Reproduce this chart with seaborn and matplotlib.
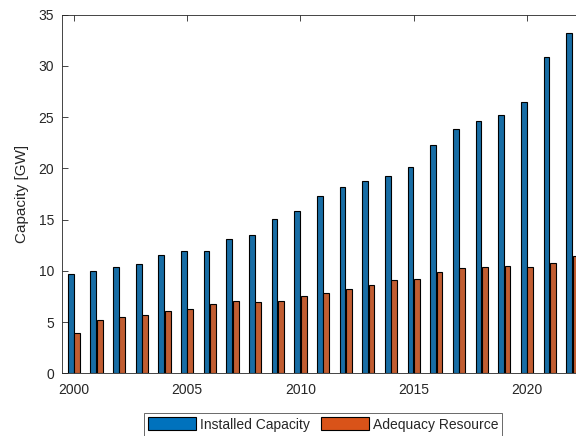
import numpy as np
import pandas as pd
import matplotlib
matplotlib.use("Agg")
import matplotlib.pyplot as plt
import seaborn as sns

years = list(range(2000, 2023))
installed_capacity = [9.7, 10.0, 10.4, 10.7, 11.5, 11.9, 11.9, 13.1, 13.5, 15.1, 15.8,
                      17.3, 18.2, 18.8, 19.3, 20.1, 22.3, 23.8, 24.6, 25.2, 26.5, 30.9, 33.2]
adequacy_resource = [3.9, 5.2, 5.5, 5.7, 6.1, 6.3, 6.8, 7.1, 7.0, 7.1, 7.5,
                     7.8, 8.2, 8.6, 9.1, 9.2, 9.9, 10.3, 10.4, 10.5, 10.4, 10.8, 11.4]
series_names = ["Installed Capacity", "Adequacy Resource"]
series_colors = ["#0072BD", "#D95319"]
x_ticks = [2000, 2005, 2010, 2015, 2020]
y_ticks = [0, 5, 10, 15, 20, 25, 30, 35]

df = pd.DataFrame({
    "Year": years * 2,
    "Capacity": installed_capacity + adequacy_resource,
    "Series": [series_names[0]] * len(years) + [series_names[1]] * len(years),
})

sns.set_theme(style="white")
plt.rcParams["font.family"] = ["Liberation Sans", "DejaVu Sans"]
plt.rcParams["font.size"] = 10

axis_color = "#262626"

fig = plt.figure(figsize=(5.76, 4.36), dpi=100)
ax = fig.add_axes([0.1085, 0.1438, 0.905, 0.8225])

sns.barplot(data=df, x="Year", y="Capacity", hue="Series",
            palette=series_colors, native_scale=True, width=0.56, gap=0.1,
            edgecolor="black", linewidth=0.8, errorbar=None, ax=ax, legend=False)

ax.set_xlim(1999.5, 2022.5)
ax.set_ylim(0, 35)
ax.set_xticks(x_ticks)
ax.set_xticklabels([str(t) for t in x_ticks])
ax.set_yticks(y_ticks)
ax.set_xlabel("")
ax.set_ylabel("Capacity [GW]", fontsize=11, color=axis_color, labelpad=7)

for side in ["left", "right", "top", "bottom"]:
    ax.spines[side].set_visible(True)
    ax.spines[side].set_color(axis_color)
    ax.spines[side].set_linewidth(0.6)

ax.tick_params(axis="both", which="both", direction="in", length=4.3, width=0.6,
               color=axis_color, labelcolor=axis_color, labelsize=10,
               top=True, right=True, bottom=True, left=True)
ax.tick_params(axis="x", pad=7)
ax.tick_params(axis="y", pad=6)

handles = [plt.Rectangle((0, 0), 1, 1, facecolor=c, edgecolor="black", linewidth=0.8)
           for c in series_colors]
leg = fig.legend(handles, series_names, loc="upper center", bbox_to_anchor=(0.561, 0.052),
                 borderaxespad=0, ncol=2, frameon=True, fancybox=False, fontsize=10,
                 handlelength=3.45, handleheight=1.04, handletextpad=0.3,
                 columnspacing=0.77, borderpad=0.3, labelcolor=axis_color)
leg.get_frame().set_edgecolor(axis_color)
leg.get_frame().set_linewidth(0.6)

fig.savefig("out.png", dpi=100)
